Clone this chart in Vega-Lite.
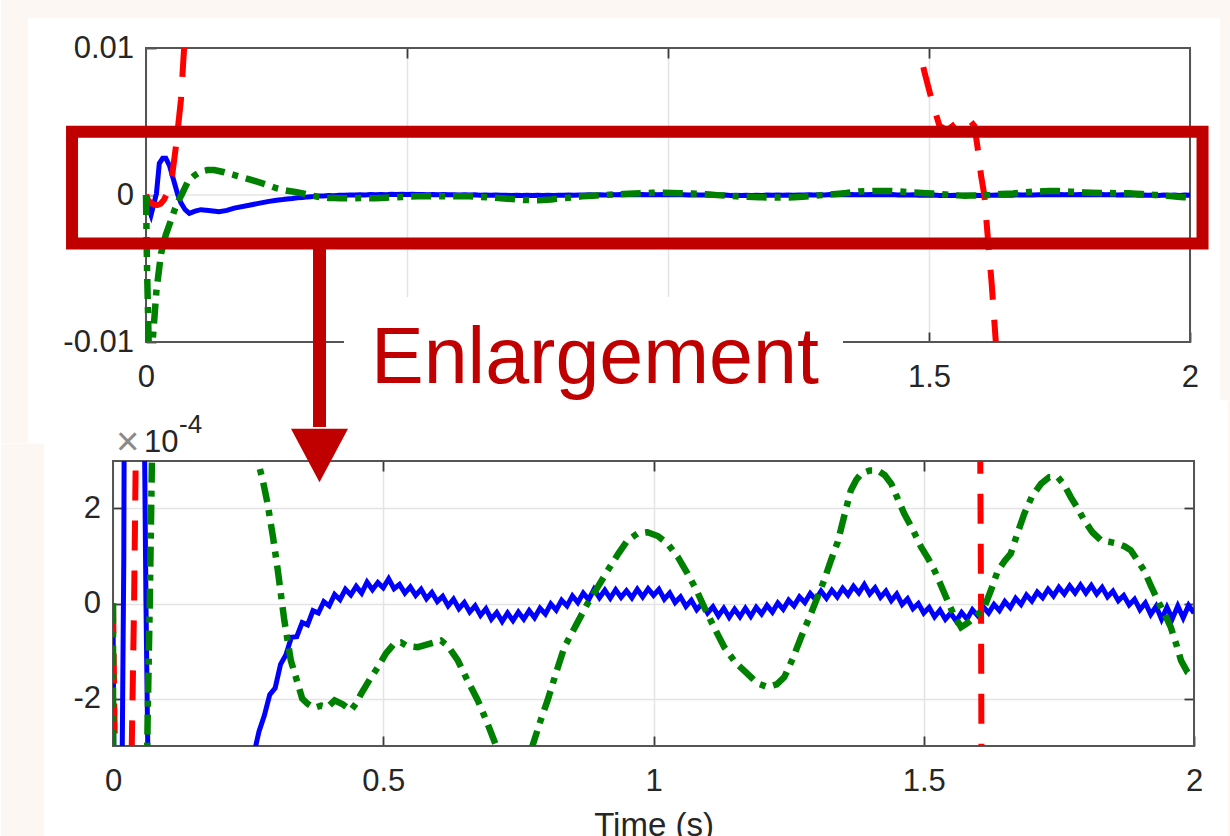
{
  "$schema": "https://vega.github.io/schema/vega-lite/v6.json",
  "background": "white",
  "padding": 0,
  "config": {
    "view": {"stroke": null},
    "axis": {"labelFont": "Liberation Sans", "labelFontSize": 31, "labelColor": "#262626", "gridColor": "#e4e4e4", "gridWidth": 1.5, "tickColor": "#3a3a3a", "tickWidth": 1.8, "titleFont": "Liberation Sans", "titleFontSize": 33, "titleFontWeight": "normal", "titleColor": "#262626", "zindex": 0}
  },
  "datasets": {
    "one": [{}],
    "blue": [{"t":0,"v":0},{"t":0.004,"v":-8},{"t":0.0096,"v":-13.6},{"t":0.015,"v":-6},{"t":0.02,"v":1},{"t":0.0255,"v":21.5},{"t":0.032,"v":25},{"t":0.038,"v":25},{"t":0.045,"v":20},{"t":0.053,"v":10},{"t":0.061,"v":0},{"t":0.067,"v":-5.4},{"t":0.075,"v":-10},{"t":0.083,"v":-12.5},{"t":0.094,"v":-11},{"t":0.105,"v":-10},{"t":0.12,"v":-10.5},{"t":0.14,"v":-11.4},{"t":0.155,"v":-10.5},{"t":0.169,"v":-8.9},{"t":0.2,"v":-6.8},{"t":0.233,"v":-4.5},{"t":0.25,"v":-3.6},{"t":0.262,"v":-3.1},
      {"t":0.27,"v":-2.7},{"t":0.28,"v":-2.36},{"t":0.29,"v":-1.92},{"t":0.3,"v":-1.78},{"t":0.31,"v":-1.28},{"t":0.32,"v":-1.08},{"t":0.33,"v":-0.71},{"t":0.34,"v":-0.7},{"t":0.35,"v":-0.4},{"t":0.36,"v":-0.45},{"t":0.37,"v":-0.15},{"t":0.38,"v":-0.2},{"t":0.39,"v":0.04},{"t":0.4,"v":-0.05},{"t":0.41,"v":0.19},{"t":0.42,"v":0.08},{"t":0.43,"v":0.3},{"t":0.44,"v":0.18},{"t":0.45,"v":0.36},{"t":0.46,"v":0.22},{"t":0.47,"v":0.45},{"t":0.48,"v":0.29},{"t":0.49,"v":0.44},{"t":0.5,"v":0.33},{"t":0.51,"v":0.52},{"t":0.52,"v":0.31},{"t":0.53,"v":0.4},{"t":0.54,"v":0.22},{"t":0.55,"v":0.35},{"t":0.56,"v":0.17},{"t":0.57,"v":0.3},{"t":0.58,"v":0.1},{"t":0.59,"v":0.23},{"t":0.6,"v":0.04},{"t":0.61,"v":0.15},{"t":0.62,"v":-0.05},{"t":0.63,"v":0.09},{"t":0.64,"v":-0.11},{"t":0.65,"v":0.02},{"t":0.66,"v":-0.18},{"t":0.67,"v":-0.05},{"t":0.68,"v":-0.25},{"t":0.69,"v":-0.11},{"t":0.7,"v":-0.33},{"t":0.71,"v":-0.19},{"t":0.72,"v":-0.38},{"t":0.73,"v":-0.2},{"t":0.74,"v":-0.36},{"t":0.75,"v":-0.18},{"t":0.76,"v":-0.33},{"t":0.77,"v":-0.15},{"t":0.78,"v":-0.3},{"t":0.79,"v":-0.1},{"t":0.8,"v":-0.22},{"t":0.81,"v":-0.01},{"t":0.82,"v":-0.14},{"t":0.83,"v":0.07},{"t":0.84,"v":-0.05},{"t":0.85,"v":0.16},{"t":0.86,"v":0.02},{"t":0.87,"v":0.22},{"t":0.88,"v":0.08},{"t":0.89,"v":0.3},{"t":0.9,"v":0.12},{"t":0.91,"v":0.28},{"t":0.92,"v":0.11},{"t":0.93,"v":0.29},{"t":0.94,"v":0.13},{"t":0.95,"v":0.27},{"t":0.96,"v":0.12},{"t":0.97,"v":0.3},{"t":0.98,"v":0.14},{"t":0.99,"v":0.31},{"t":1,"v":0.17},{"t":1.01,"v":0.3},{"t":1.02,"v":0.09},{"t":1.03,"v":0.22},{"t":1.04,"v":0.02},{"t":1.05,"v":0.14},{"t":1.06,"v":-0.06},{"t":1.07,"v":0.07},{"t":1.08,"v":-0.13},{"t":1.09,"v":0},{"t":1.1,"v":-0.2},{"t":1.11,"v":-0.07},{"t":1.12,"v":-0.26},{"t":1.13,"v":-0.1},{"t":1.14,"v":-0.29},{"t":1.15,"v":-0.12},{"t":1.16,"v":-0.28},{"t":1.17,"v":-0.1},{"t":1.18,"v":-0.27},{"t":1.19,"v":-0.08},{"t":1.2,"v":-0.22},{"t":1.21,"v":-0.04},{"t":1.22,"v":-0.18},{"t":1.23,"v":0.01},{"t":1.24,"v":-0.12},{"t":1.25,"v":0.07},{"t":1.26,"v":-0.05},{"t":1.27,"v":0.14},{"t":1.28,"v":0.02},{"t":1.29,"v":0.21},{"t":1.3,"v":0.08},{"t":1.31,"v":0.26},{"t":1.32,"v":0.11},{"t":1.33,"v":0.28},{"t":1.34,"v":0.14},{"t":1.35,"v":0.32},{"t":1.36,"v":0.18},{"t":1.37,"v":0.36},{"t":1.38,"v":0.22},{"t":1.39,"v":0.4},{"t":1.4,"v":0.2},{"t":1.41,"v":0.33},{"t":1.42,"v":0.13},{"t":1.43,"v":0.26},{"t":1.44,"v":0.06},{"t":1.45,"v":0.2},{"t":1.46,"v":-0.02},{"t":1.47,"v":0.1},{"t":1.48,"v":-0.11},{"t":1.49,"v":0},{"t":1.5,"v":-0.2},{"t":1.51,"v":-0.08},{"t":1.52,"v":-0.28},{"t":1.53,"v":-0.14},{"t":1.54,"v":-0.33},{"t":1.55,"v":-0.2},{"t":1.56,"v":-0.37},{"t":1.57,"v":-0.19},{"t":1.58,"v":-0.33},{"t":1.59,"v":-0.13},{"t":1.6,"v":-0.26},{"t":1.61,"v":-0.07},{"t":1.62,"v":-0.2},{"t":1.63,"v":-0.02},{"t":1.64,"v":-0.15},{"t":1.65,"v":0.04},{"t":1.66,"v":-0.09},{"t":1.67,"v":0.11},{"t":1.68,"v":-0.02},{"t":1.69,"v":0.18},{"t":1.7,"v":0.05},{"t":1.71,"v":0.24},{"t":1.72,"v":0.12},{"t":1.73,"v":0.3},{"t":1.74,"v":0.16},{"t":1.75,"v":0.34},{"t":1.76,"v":0.2},{"t":1.77,"v":0.37},{"t":1.78,"v":0.22},{"t":1.79,"v":0.39},{"t":1.8,"v":0.22},{"t":1.81,"v":0.38},{"t":1.82,"v":0.2},{"t":1.83,"v":0.34},{"t":1.84,"v":0.14},{"t":1.85,"v":0.26},{"t":1.86,"v":0.06},{"t":1.87,"v":0.17},{"t":1.88,"v":-0.03},{"t":1.89,"v":0.09},{"t":1.9,"v":-0.13},{"t":1.91,"v":0.01},{"t":1.92,"v":-0.23},{"t":1.93,"v":-0.06},{"t":1.94,"v":-0.33},{"t":1.95,"v":-0.08},{"t":1.96,"v":-0.32},{"t":1.97,"v":-0.05},{"t":1.98,"v":-0.3},{"t":1.99,"v":-0.04},{"t":2,"v":-0.2}],
    "red": [{"t":0,"v":0},{"t":0.004,"v":-3.5},{"t":0.01,"v":-5.5},{"t":0.016,"v":-6.6},{"t":0.022,"v":-6.8},{"t":0.028,"v":-6},{"t":0.034,"v":-3.5},{"t":0.039,"v":0},{"t":0.044,"v":5},{"t":0.05,"v":13},{"t":0.058,"v":35},{"t":0.067,"v":65},{"t":0.073,"v":100},{"t":0.08,"v":140},{"t":0.1,"v":250},{"t":0.15,"v":500},{"t":0.3,"v":900},{"t":0.6,"v":1200},{"t":1,"v":1100},{"t":1.3,"v":700},{"t":1.42,"v":300},{"t":1.46,"v":150},{"t":1.481,"v":100},{"t":1.491,"v":84},{"t":1.505,"v":65},{"t":1.52,"v":47},{"t":1.535,"v":44},{"t":1.549,"v":48},{"t":1.568,"v":53},{"t":1.58,"v":50},{"t":1.587,"v":47},{"t":1.594,"v":30},{"t":1.6,"v":12.5},{"t":1.606,"v":0},{"t":1.612,"v":-26},{"t":1.62,"v":-60},{"t":1.628,"v":-100},{"t":1.65,"v":-180},{"t":1.7,"v":-400},{"t":2,"v":-1500}],
    "green": [{"t":0,"v":0},{"t":0.002,"v":-50},{"t":0.006,"v":-115},{"t":0.01,"v":-108},{"t":0.0128,"v":-99},{"t":0.02,"v":-65},{"t":0.0287,"v":-40},{"t":0.038,"v":-27},{"t":0.048,"v":-17},{"t":0.056,"v":-9},{"t":0.064,"v":-2.5},{"t":0.068,"v":0},{"t":0.072,"v":3},{"t":0.08,"v":9},{"t":0.092,"v":13},{"t":0.105,"v":16},{"t":0.118,"v":17},{"t":0.131,"v":17},{"t":0.15,"v":15.5},{"t":0.169,"v":13.6},{"t":0.2,"v":10.5},{"t":0.233,"v":6.8},{"t":0.25,"v":4.6},{"t":0.268,"v":3},{"t":0.277,"v":2.6},{"t":0.286,"v":2.1},{"t":0.296,"v":1.4},{"t":0.305,"v":0.69},{"t":0.317,"v":-0.36},{"t":0.329,"v":-1.2},{"t":0.342,"v":-1.69},{"t":0.35,"v":-2},{"t":0.36,"v":-2.11},{"t":0.372,"v":-2.2},{"t":0.385,"v":-2.15},{"t":0.397,"v":-2.18},{"t":0.41,"v":-2.04},{"t":0.425,"v":-2.12},{"t":0.44,"v":-2.25},{"t":0.45,"v":-2.1},{"t":0.459,"v":-1.9},{"t":0.475,"v":-1.6},{"t":0.49,"v":-1.34},{"t":0.505,"v":-1.05},{"t":0.52,"v":-0.85},{"t":0.533,"v":-0.82},{"t":0.545,"v":-0.9},{"t":0.564,"v":-0.92},{"t":0.585,"v":-0.85},{"t":0.607,"v":-0.78},{"t":0.62,"v":-0.9},{"t":0.638,"v":-1.2},{"t":0.655,"v":-1.6},{"t":0.675,"v":-2.04},{"t":0.692,"v":-2.5},{"t":0.709,"v":-3},{"t":0.725,"v":-3.4},{"t":0.742,"v":-3.55},{"t":0.76,"v":-3.4},{"t":0.776,"v":-3},{"t":0.79,"v":-2.5},{"t":0.804,"v":-2.04},{"t":0.82,"v":-1.45},{"t":0.835,"v":-0.92},{"t":0.857,"v":-0.45},{"t":0.878,"v":0},{"t":0.897,"v":0.35},{"t":0.915,"v":0.69},{"t":0.935,"v":1.05},{"t":0.952,"v":1.33},{"t":0.97,"v":1.47},{"t":0.989,"v":1.5},{"t":1.008,"v":1.42},{"t":1.026,"v":1.26},{"t":1.045,"v":0.98},{"t":1.063,"v":0.63},{"t":1.08,"v":0.27},{"t":1.094,"v":-0.08},{"t":1.112,"v":-0.5},{"t":1.131,"v":-0.92},{"t":1.152,"v":-1.25},{"t":1.174,"v":-1.48},{"t":1.192,"v":-1.68},{"t":1.211,"v":-1.76},{"t":1.228,"v":-1.7},{"t":1.242,"v":-1.55},{"t":1.258,"v":-1.15},{"t":1.273,"v":-0.71},{"t":1.29,"v":-0.25},{"t":1.304,"v":0.15},{"t":1.316,"v":0.5},{"t":1.328,"v":0.9},{"t":1.341,"v":1.3},{"t":1.353,"v":1.85},{"t":1.365,"v":2.38},{"t":1.375,"v":2.6},{"t":1.384,"v":2.73},{"t":1.4,"v":2.8},{"t":1.415,"v":2.8},{"t":1.428,"v":2.7},{"t":1.44,"v":2.52},{"t":1.452,"v":2.2},{"t":1.464,"v":1.89},{"t":1.48,"v":1.55},{"t":1.495,"v":1.19},{"t":1.508,"v":0.95},{"t":1.52,"v":0.69},{"t":1.532,"v":0.38},{"t":1.544,"v":0.06},{"t":1.556,"v":-0.25},{"t":1.569,"v":-0.5},{"t":1.58,"v":-0.42},{"t":1.594,"v":-0.29},{"t":1.603,"v":-0.2},{"t":1.612,"v":-0.08},{"t":1.625,"v":0.3},{"t":1.637,"v":0.69},{"t":1.65,"v":0.9},{"t":1.661,"v":1.05},{"t":1.674,"v":1.5},{"t":1.686,"v":1.89},{"t":1.7,"v":2.25},{"t":1.717,"v":2.52},{"t":1.732,"v":2.66},{"t":1.748,"v":2.66},{"t":1.76,"v":2.5},{"t":1.772,"v":2.24},{"t":1.785,"v":2},{"t":1.797,"v":1.75},{"t":1.812,"v":1.5},{"t":1.828,"v":1.33},{"t":1.843,"v":1.3},{"t":1.859,"v":1.26},{"t":1.872,"v":1.2},{"t":1.883,"v":1.12},{"t":1.896,"v":0.9},{"t":1.908,"v":0.69},{"t":1.92,"v":0.38},{"t":1.933,"v":0.06},{"t":1.945,"v":-0.2},{"t":1.957,"v":-0.5},{"t":1.967,"v":-0.85},{"t":1.976,"v":-1.2},{"t":1.988,"v":-1.45},{"t":2,"v":-1.55}]
  },
  "bounds": "flush",
  "spacing": 119,
  "vconcat": [
    {
      "width": 1081,
      "height": 294,
      "resolve": {"axis": {"x": "independent", "y": "independent"}},
      "layer": [
        {"data": {"name": "one"}, "mark": {"type": "rect", "color": "#fdf7f3"},
         "encoding": {"x": {"datum": -0.27778, "type": "quantitative", "scale": {"domain": [-0.063218, 2.007663], "nice": false, "zero": false}, "axis": null}, "x2": {"datum": 2.07855},
                      "y": {"datum": 120.41, "type": "quantitative", "scale": {"domain": [-100, 100], "nice": false, "zero": false}, "axis": null}, "y2": {"datum": 132.65}}},
        {"data": {"name": "one"}, "mark": {"type": "rect", "color": "#fdf7f3"},
         "encoding": {"x": {"datum": -0.27778, "type": "quantitative", "scale": {"domain": [-0.063218, 2.007663], "nice": false, "zero": false}, "axis": null}, "x2": {"datum": -0.22605},
                      "y": {"datum": -168.71, "type": "quantitative", "scale": {"domain": [-100, 100], "nice": false, "zero": false}, "axis": null}, "y2": {"datum": 132.65}}},
        {"data": {"name": "one"}, "mark": {"type": "rect", "color": "#fdf7f3"},
         "encoding": {"x": {"datum": 2.05748, "type": "quantitative", "scale": {"domain": [-0.063218, 2.007663], "nice": false, "zero": false}, "axis": null}, "x2": {"datum": 2.07855},
                      "y": {"datum": -139.46, "type": "quantitative", "scale": {"domain": [-100, 100], "nice": false, "zero": false}, "axis": null}, "y2": {"datum": 132.65}}},
        {"data": {"name": "one"}, "mark": {"type": "rule", "color": "#e4e4e4", "strokeWidth": 1.5},
         "encoding": {"x": {"datum": 0, "type": "quantitative", "scale": {"domain": [-0.063218, 2.007663], "nice": false, "zero": false}, "axis": null}, "x2": {"datum": 2},
                      "y": {"datum": 0, "type": "quantitative", "scale": {"domain": [-100, 100], "nice": false, "zero": false}, "axis": null}}},
        {"data": {"name": "one"}, "mark": {"type": "rect", "filled": false, "stroke": "#555555", "strokeWidth": 2},
         "encoding": {"x": {"datum": 0, "type": "quantitative", "scale": {"domain": [-0.063218, 2.007663], "nice": false, "zero": false}, "axis": null}, "x2": {"datum": 2},
                      "y": {"datum": -100, "type": "quantitative", "scale": {"domain": [-100, 100], "nice": false, "zero": false}, "axis": null}, "y2": {"datum": 100}}},
        {"data": {"name": "blue"},
         "mark": {"type": "line", "color": "#0000ff", "strokeWidth": 5, "clip": true},
         "encoding": {
           "x": {"field": "t", "type": "quantitative", "scale": {"domain": [-0.063218, 2.007663], "nice": false, "zero": false},
                 "axis": {"orient": "bottom", "values": [0, 0.5, 1, 1.5, 2], "labelExpr": "(datum.value == 0.5 || datum.value == 1) ? '' : '' + datum.value", "grid": true, "domain": false, "ticks": true, "tickSize": -10, "labelPadding": 30.5, "title": null, "labelFlush": false, "labelOverlap": false}},
           "y": {"field": "v", "type": "quantitative", "scale": {"domain": [-100, 100], "nice": false, "zero": false},
                 "axis": {"orient": "left", "offset": -33, "values": [-100, 0, 100], "labelExpr": "'' + (datum.value / 10000)", "grid": false, "domain": false, "ticks": true, "tickSize": -10, "labelPadding": 22.5, "title": null, "labelOverlap": false}}}},
        {"data": {"name": "red"},
         "mark": {"type": "line", "color": "#ff0000", "strokeWidth": 6, "strokeDash": [30, 20], "clip": true},
         "encoding": {
           "x": {"field": "t", "type": "quantitative", "scale": {"domain": [-0.063218, 2.007663], "nice": false, "zero": false},
                 "axis": {"orient": "top", "values": [0.5, 1, 1.5], "labels": false, "grid": false, "domain": false, "ticks": true, "tickSize": -10, "title": null}},
           "y": {"field": "v", "type": "quantitative", "scale": {"domain": [-100, 100], "nice": false, "zero": false},
                 "axis": {"orient": "right", "offset": -4, "values": [0], "labels": false, "grid": false, "domain": false, "ticks": true, "tickSize": -10, "title": null}}}},
        {"data": {"name": "green"},
         "mark": {"type": "line", "color": "#008000", "strokeWidth": 6.5, "strokeDash": [20, 8, 6, 8], "clip": true},
         "encoding": {
           "x": {"field": "t", "type": "quantitative", "scale": {"domain": [-0.063218, 2.007663], "nice": false, "zero": false}, "axis": null},
           "y": {"field": "v", "type": "quantitative", "scale": {"domain": [-100, 100], "nice": false, "zero": false}, "axis": null}}},
        {"data": {"name": "one"}, "mark": {"type": "rect", "filled": false, "stroke": "#c00000", "strokeWidth": 12},
         "encoding": {"x": {"datum": -0.1417, "type": "quantitative", "scale": {"domain": [-0.063218, 2.007663], "nice": false, "zero": false}, "axis": null}, "x2": {"datum": 2.024},
                      "y": {"datum": -33, "type": "quantitative", "scale": {"domain": [-100, 100], "nice": false, "zero": false}, "axis": null}, "y2": {"datum": 43}}},
        {"data": {"name": "one"}, "mark": {"type": "rect", "color": "white"},
         "encoding": {"x": {"datum": 0.3793, "type": "quantitative", "scale": {"domain": [-0.063218, 2.007663], "nice": false, "zero": false}, "axis": null}, "x2": {"datum": 1.3352},
                      "y": {"datum": -139.5, "type": "quantitative", "scale": {"domain": [-100, 100], "nice": false, "zero": false}, "axis": null}, "y2": {"datum": -69.4}}},
        {"data": {"name": "one"}, "mark": {"type": "rule", "color": "#c00000", "strokeWidth": 13, "strokeCap": "butt"},
         "encoding": {"x": {"datum": 0.3324, "type": "quantitative", "scale": {"domain": [-0.063218, 2.007663], "nice": false, "zero": false}, "axis": null},
                      "y": {"datum": -33, "type": "quantitative", "scale": {"domain": [-100, 100], "nice": false, "zero": false}, "axis": null}, "y2": {"datum": -157.8}}},
        {"data": {"name": "one"}, "mark": {"type": "text", "text": "Enlargement", "font": "Liberation Sans", "fontSize": 79, "color": "#c00000", "align": "left", "baseline": "alphabetic"},
         "encoding": {"x": {"datum": 0.431, "type": "quantitative", "scale": {"domain": [-0.063218, 2.007663], "nice": false, "zero": false}, "axis": null},
                      "y": {"datum": -128.1, "type": "quantitative", "scale": {"domain": [-100, 100], "nice": false, "zero": false}, "axis": null}}}
      ]
    },
    {
      "width": 1081,
      "height": 285,
      "resolve": {"axis": {"x": "independent", "y": "independent"}},
      "layer": [
        {"data": {"name": "one"}, "mark": {"type": "rect", "color": "#fdf7f3"},
         "encoding": {"x": {"datum": -0.207216, "type": "quantitative", "scale": {"domain": [0, 2], "nice": false, "zero": false}, "axis": null}, "x2": {"datum": -0.12766},
                      "y": {"datum": -4.9053, "type": "quantitative", "scale": {"domain": [-3, 3], "nice": false, "zero": false}, "axis": null}, "y2": {"datum": 3.3684}}},
        {"data": {"name": "one"}, "mark": {"type": "rect", "color": "#fdf7f3"},
         "encoding": {"x": {"datum": 2.062905, "type": "quantitative", "scale": {"domain": [0, 2], "nice": false, "zero": false}, "axis": null}, "x2": {"datum": 2.068455},
                      "y": {"datum": -4.9053, "type": "quantitative", "scale": {"domain": [-3, 3], "nice": false, "zero": false}, "axis": null}, "y2": {"datum": 4.2737}}},
        {"data": {"name": "one"}, "mark": {"type": "rect", "filled": false, "stroke": "#555555", "strokeWidth": 2},
         "encoding": {"x": {"datum": 0, "type": "quantitative", "scale": {"domain": [0, 2], "nice": false, "zero": false}, "axis": null}, "x2": {"datum": 2},
                      "y": {"datum": -3, "type": "quantitative", "scale": {"domain": [-3, 3], "nice": false, "zero": false}, "axis": null}, "y2": {"datum": 3}}},
        {"data": {"name": "blue"},
         "mark": {"type": "line", "color": "#0000ff", "strokeWidth": 5, "clip": true},
         "encoding": {
           "x": {"field": "t", "type": "quantitative", "scale": {"domain": [0, 2], "nice": false, "zero": false},
                 "axis": {"orient": "bottom", "values": [0, 0.5, 1, 1.5, 2], "labelExpr": "'' + datum.value", "grid": true, "domain": false, "ticks": true, "tickSize": -10, "labelPadding": 30.5, "title": "Time (s)", "titlePadding": 13, "labelFlush": false, "labelOverlap": false}},
           "y": {"field": "v", "type": "quantitative", "scale": {"domain": [-3, 3], "nice": false, "zero": false},
                 "axis": {"orient": "left", "values": [-2, 0, 2], "labelExpr": "'' + datum.value", "grid": true, "domain": false, "ticks": true, "tickSize": -10, "labelPadding": 22.5, "title": null, "labelOverlap": false}}}},
        {"data": {"name": "red"},
         "mark": {"type": "line", "color": "#ff0000", "strokeWidth": 6, "strokeDash": [30, 20], "clip": true},
         "encoding": {
           "x": {"field": "t", "type": "quantitative", "scale": {"domain": [0, 2], "nice": false, "zero": false},
                 "axis": {"orient": "top", "values": [0.5, 1, 1.5], "labels": false, "grid": false, "domain": false, "ticks": true, "tickSize": -10, "title": null}},
           "y": {"field": "v", "type": "quantitative", "scale": {"domain": [-3, 3], "nice": false, "zero": false},
                 "axis": {"orient": "right", "values": [-2, 0, 2], "labels": false, "grid": false, "domain": false, "ticks": true, "tickSize": -10, "title": null}}}},
        {"data": {"name": "green"},
         "mark": {"type": "line", "color": "#008000", "strokeWidth": 6.5, "strokeDash": [20, 8, 6, 8], "clip": true},
         "encoding": {
           "x": {"field": "t", "type": "quantitative", "scale": {"domain": [0, 2], "nice": false, "zero": false}, "axis": null},
           "y": {"field": "v", "type": "quantitative", "scale": {"domain": [-3, 3], "nice": false, "zero": false}, "axis": null}}},
        {"data": {"name": "one"}, "mark": {"type": "text", "text": "×", "font": "Liberation Sans", "fontSize": 40, "color": "#8a8a8a", "align": "left", "baseline": "alphabetic"},
         "encoding": {"x": {"datum": 0.00555, "type": "quantitative", "scale": {"domain": [0, 2], "nice": false, "zero": false}, "axis": null},
                      "y": {"datum": 3.12, "type": "quantitative", "scale": {"domain": [-3, 3], "nice": false, "zero": false}, "axis": null}}},
        {"data": {"name": "one"}, "mark": {"type": "text", "text": "10", "font": "Liberation Sans", "fontSize": 31, "color": "#262626", "align": "left", "baseline": "alphabetic"},
         "encoding": {"x": {"datum": 0.05735, "type": "quantitative", "scale": {"domain": [0, 2], "nice": false, "zero": false}, "axis": null},
                      "y": {"datum": 3.179, "type": "quantitative", "scale": {"domain": [-3, 3], "nice": false, "zero": false}, "axis": null}}},
        {"data": {"name": "one"}, "mark": {"type": "text", "text": "-4", "font": "Liberation Sans", "fontSize": 26, "color": "#262626", "align": "left", "baseline": "alphabetic"},
         "encoding": {"x": {"datum": 0.1221, "type": "quantitative", "scale": {"domain": [0, 2], "nice": false, "zero": false}, "axis": null},
                      "y": {"datum": 3.579, "type": "quantitative", "scale": {"domain": [-3, 3], "nice": false, "zero": false}, "axis": null}}},
        {"data": {"name": "one"}, "mark": {"type": "point", "shape": "M-1,-0.937L1,-0.937L0,0.937Z", "size": 3249, "filled": true, "opacity": 1, "color": "#c00000", "strokeWidth": 0},
         "encoding": {"x": {"datum": 0.38205, "type": "quantitative", "scale": {"domain": [0, 2], "nice": false, "zero": false}, "axis": null},
                      "y": {"datum": 3.1158, "type": "quantitative", "scale": {"domain": [-3, 3], "nice": false, "zero": false}, "axis": null}}}
      ]
    }
  ]
}
